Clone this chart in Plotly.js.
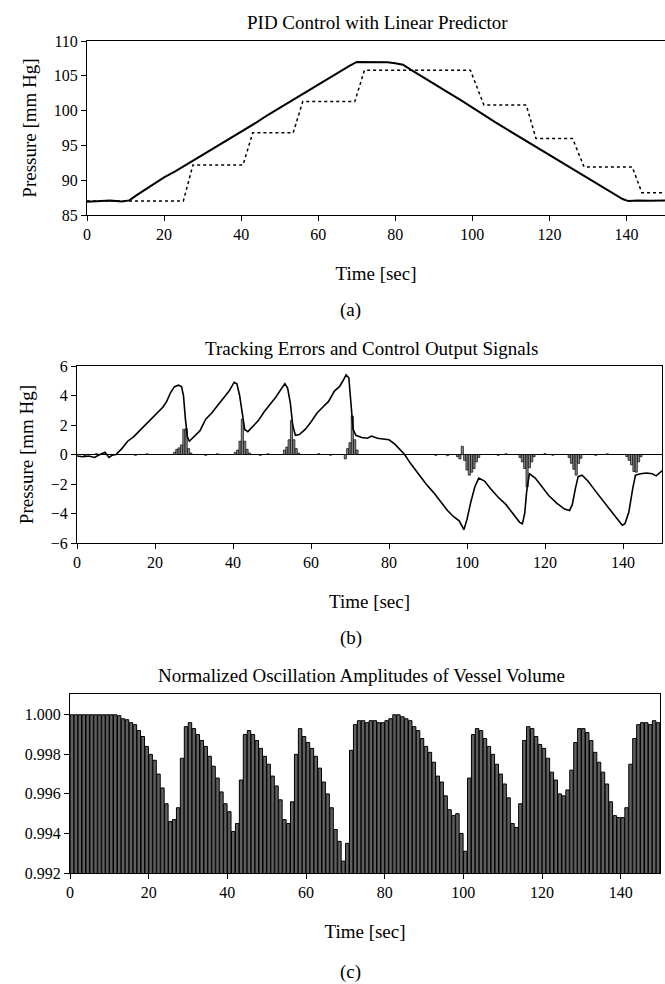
<!DOCTYPE html>
<html>
<head>
<meta charset="utf-8">
<script src="https://cdn.plot.ly/plotly-3.0.1.min.js"></script>
<style>html,body{margin:0;padding:0;background:#fff;}#chart{width:665px;height:984px;}</style>
</head>
<body>
<div id="chart"></div>
<script>
// ---------- Panel (a): PID control with linear predictor ----------
const aTime = [0,3,6,9,11,13,15,17,20,23,26,29,32,35,38,41,44,47,50,53,56,59,62,65,68,70,72,74,76,78,80,82,84,86,88,91,94,97,100,103,106,109,112,115,118,121,124,127,130,133,136,139,140.5,143,146,150];
const aPressure = [86.9,87.0,87.1,86.95,87.1,87.9,88.6,89.3,90.4,91.3,92.3,93.2,94.2,95.2,96.2,97.3,98.3,99.4,100.4,101.5,102.4,103.4,104.4,105.5,106.4,107.0,107.0,106.95,107.05,106.95,106.8,106.6,105.9,105.2,104.6,103.5,102.5,101.5,100.5,99.4,98.3,97.3,96.2,95.2,94.2,93.2,92.2,91.2,90.3,89.3,88.3,87.3,87.0,87.1,87.05,87.1];
const spTime = [0,25,27.5,40.5,43,53.5,56,69.5,72,99.5,103,114,116.5,126,129,141.5,144,150];
const spPressure = [87.0,87.0,92.2,92.2,96.8,96.8,101.3,101.3,105.8,105.8,100.8,100.8,96.0,96.0,91.9,91.9,88.2,88.2];

// ---------- Panel (b): tracking errors and control output ----------
const errTime = [0,1.5,3,4.5,5.5,6.5,7.2,8.2,9,10,11.5,13,14.5,16,17.5,19,20.5,22,23,24,25,26,26.8,27.3,27.8,28.3,28.8,30,31.5,33,34.5,36,37.5,39,40.3,41,41.7,42.4,43,43.8,45,46.5,48,49.5,51,52.5,53.3,54,54.7,55.3,56,57,58.5,60,61.5,63,64.5,66,67.3,68.2,69,69.7,70.3,70.8,71.5,73,74.5,75.5,77,78.5,80,81.5,83,84,85.5,87.5,89.5,91.5,93.5,95,96.5,98,99.2,100,101,102,103,104.5,106,108,110,112,113.5,114.2,114.8,115.3,116,117.5,119,121,123,125,126.3,127,127.8,128.5,129.5,131,133,135,137,138.5,139.8,140.5,141.5,142.5,143.2,144.5,146,147.5,148.5,150];
const errValue = [-0.1,-0.15,-0.1,-0.2,-0.05,0.05,0.15,-0.2,-0.05,0.0,0.4,0.9,1.2,1.6,2.0,2.4,2.8,3.2,3.6,4.2,4.6,4.7,4.6,4.0,2.4,1.2,0.9,1.2,1.6,2.4,2.8,3.3,3.8,4.3,4.9,4.8,4.0,2.6,1.7,1.55,1.9,2.3,2.9,3.4,3.9,4.5,4.8,4.5,3.5,2.0,1.3,1.35,1.7,2.2,2.8,3.2,3.6,4.3,4.6,5.0,5.4,5.2,3.5,1.7,1.3,1.15,1.1,1.25,1.1,1.05,1.0,0.7,0.3,0.0,-0.6,-1.3,-2.0,-2.6,-3.3,-3.8,-4.2,-4.5,-5.1,-4.4,-3.2,-2.2,-1.6,-1.8,-2.3,-2.9,-3.4,-4.1,-4.6,-4.7,-4.0,-2.5,-1.3,-1.6,-2.1,-2.8,-3.3,-3.7,-3.8,-3.4,-2.3,-1.5,-1.4,-1.8,-2.5,-3.2,-3.9,-4.4,-4.8,-4.7,-3.9,-2.3,-1.4,-1.3,-1.25,-1.3,-1.45,-1.1];
const ctrlTime = [2,5,15,18,25.0,25.6,26.2,26.8,27.4,28.0,28.6,29.2,33,36,40.6,41.2,41.8,42.4,43.0,43.6,44.2,47,49,53.2,53.8,54.4,55.0,55.6,56.2,56.8,62,65,68.8,69.4,70.0,70.6,71.2,71.8,92,95,97.6,98.2,98.8,99.4,100.0,100.6,101.2,101.8,102.4,103.0,108,110,113.6,114.2,114.8,115.4,116.0,116.6,117.2,120,122,126.2,126.8,127.4,128.0,128.6,129.2,133,136,141.0,141.6,142.2,142.8,143.4,144.0,144.6];
const ctrlValue = [-0.08,0.06,-0.06,0.05,0.15,0.35,0.45,0.65,1.7,1.75,0.4,0.1,-0.06,0.05,0.15,0.3,0.9,2.4,0.9,0.35,0.1,-0.06,0.05,0.3,0.5,1.0,2.3,1.0,0.4,0.1,0.06,-0.05,-0.3,0.4,0.8,2.6,1.0,0.3,-0.06,-0.08,-0.15,-0.3,0.55,-0.4,-1.05,-1.4,-1.2,-0.95,-0.5,-0.2,-0.06,0.05,-0.2,-0.5,-0.95,-2.2,-0.9,-0.5,-0.15,0.06,-0.05,-0.2,-0.6,-1.0,-1.4,-0.6,-0.25,-0.06,0.05,-0.15,-0.4,-0.7,-1.15,-1.2,-0.5,-0.15];

// ---------- Panel (c): normalized oscillation amplitudes ----------
const ampValue = [1.0000,1.0000,1.0000,1.0000,1.0000,1.0000,1.0000,1.0000,1.0000,1.0000,
  1.0000,1.0000,0.99995,0.9998,0.99975,0.9996,0.9995,0.9992,0.9989,0.9984,
  0.9980,0.9977,0.9970,0.9963,0.9955,0.9946,0.9947,0.9953,0.9978,0.9994,
  0.9996,0.9993,0.9990,0.9987,0.9984,0.9979,0.9974,0.9968,0.9961,0.9955,
  0.9951,0.9941,0.9945,0.9967,0.9990,0.9992,0.9990,0.9987,0.9983,0.9979,
  0.9975,0.9969,0.9964,0.9957,0.9947,0.9945,0.9956,0.9980,0.9993,0.9989,
  0.9986,0.9983,0.9979,0.9973,0.9966,0.9960,0.9953,0.9942,0.9936,0.9926,
  0.9935,0.9982,0.9995,0.9997,0.9997,0.9996,0.9997,0.9997,0.9996,0.9996,
  0.9997,0.9998,1.0000,1.0000,0.9999,0.9998,0.9997,0.9994,0.9992,0.9988,
  0.9984,0.9981,0.9976,0.9969,0.9966,0.9959,0.9952,0.9949,0.9950,0.9940,
  0.9931,0.9968,0.9990,0.9993,0.9992,0.9988,0.9984,0.9980,0.9975,0.9970,
  0.9965,0.9958,0.9945,0.9943,0.9955,0.9987,0.9994,0.9993,0.9989,0.9985,
  0.9983,0.9978,0.9971,0.9967,0.9960,0.9959,0.9962,0.9972,0.9986,0.9993,
  0.9993,0.9991,0.9987,0.9981,0.9976,0.9971,0.9965,0.9956,0.9949,0.9948,
  0.9948,0.9953,0.9975,0.9988,0.9995,0.9996,0.9996,0.9995,0.9997,0.9996];
const ampTime = ampValue.map((v, i) => i + 0.5);

const timeTicks = [0,20,40,60,80,100,120,140];
const ampTicks = [0.992,0.994,0.996,0.998,1.000];
const ampTickText = ['0.992','0.994','0.996','0.998','1.000'];

const FONT = 'Liberation Serif, "Times New Roman", Times, serif';
const W = 665, H = 984;
const px = v => v / W;
const py = v => (H - v) / H;

const traces = [
  {x: aTime, y: aPressure, type:'scatter', mode:'lines', xaxis:'x', yaxis:'y',
   line:{color:'#000', width:2}},
  {x: spTime, y: spPressure, type:'scatter', mode:'lines', xaxis:'x', yaxis:'y',
   line:{color:'#000', width:1.5, dash:'dot'}},
  {x: ctrlTime, y: ctrlValue, type:'bar', xaxis:'x2', yaxis:'y2', width:0.55,
   marker:{color:'#8c8c8c', line:{color:'#000', width:0.7}}},
  {x: errTime, y: errValue, type:'scatter', mode:'lines', xaxis:'x2', yaxis:'y2',
   line:{color:'#000', width:1.6}},
  {x: ampTime, y: ampValue, type:'bar', xaxis:'x3', yaxis:'y3', width:0.88,
   marker:{color:'#5f5f5f', line:{color:'#000', width:1}}}
];

const axisCommon = {
  showgrid:false, zeroline:false, linecolor:'#000', linewidth:1,
  ticks:'outside', ticklen:5, tickwidth:1, tickcolor:'#000',
  tickfont:{family:FONT, size:16, color:'#000'}, fixedrange:true
};
const xTitle = {text:'Time [sec]', font:{family:FONT, size:19, color:'#000'}, standoff:24};
const yTitle = {text:'Pressure [mm Hg]', font:{family:FONT, size:19, color:'#000'}, standoff:12};

const layout = {
  width:W, height:H,
  margin:{l:0, r:0, t:0, b:0},
  paper_bgcolor:'#fff', plot_bgcolor:'#fff',
  showlegend:false,
  font:{family:FONT, size:16, color:'#000'},
  xaxis: Object.assign({}, axisCommon, {domain:[px(87), 1], anchor:'y', range:[0,150],
    tickvals:timeTicks, mirror:true, title:xTitle}),
  yaxis: Object.assign({}, axisCommon, {domain:[py(215), py(41)], anchor:'x', range:[85,110],
    tickvals:[85,90,95,100,105,110], mirror:false, title:yTitle}),
  xaxis2: Object.assign({}, axisCommon, {domain:[px(77), px(662)], anchor:'y2', range:[0,150],
    tickvals:timeTicks, mirror:true, title:xTitle}),
  yaxis2: Object.assign({}, axisCommon, {domain:[py(543), py(366)], anchor:'x2', range:[-6,6],
    tickvals:[-6,-4,-2,0,2,4,6], mirror:true, zeroline:true, zerolinecolor:'#000', zerolinewidth:1.2,
    title:yTitle}),
  xaxis3: Object.assign({}, axisCommon, {domain:[px(70), px(660)], anchor:'y3', range:[0,150],
    tickvals:timeTicks, mirror:true, title:xTitle}),
  yaxis3: Object.assign({}, axisCommon, {domain:[py(873), py(694)], anchor:'x3', range:[0.992,1.00105],
    tickvals:ampTicks, ticktext:ampTickText, mirror:true}),
  annotations:[
    {text:'PID Control with Linear Predictor', x:px(377), y:py(23), xref:'paper', yref:'paper',
     showarrow:false, xanchor:'center', yanchor:'middle', font:{family:FONT, size:19, color:'#000'}},
    {text:'(a)', x:px(350), y:py(310), xref:'paper', yref:'paper',
     showarrow:false, xanchor:'center', yanchor:'middle', font:{family:FONT, size:19, color:'#000'}},
    {text:'Tracking Errors and Control Output Signals', x:px(371), y:py(348), xref:'paper', yref:'paper',
     showarrow:false, xanchor:'center', yanchor:'middle', font:{family:FONT, size:19, color:'#000'}},
    {text:'(b)', x:px(351), y:py(638), xref:'paper', yref:'paper',
     showarrow:false, xanchor:'center', yanchor:'middle', font:{family:FONT, size:19, color:'#000'}},
    {text:'Normalized Oscillation Amplitudes of Vessel Volume', x:px(362), y:py(675), xref:'paper', yref:'paper',
     showarrow:false, xanchor:'center', yanchor:'middle', font:{family:FONT, size:19, color:'#000'}},
    {text:'(c)', x:px(350), y:py(972), xref:'paper', yref:'paper',
     showarrow:false, xanchor:'center', yanchor:'middle', font:{family:FONT, size:19, color:'#000'}}
  ]
};

Plotly.newPlot('chart', traces, layout, {staticPlot:true, displayModeBar:false});
</script>
</body>
</html>
